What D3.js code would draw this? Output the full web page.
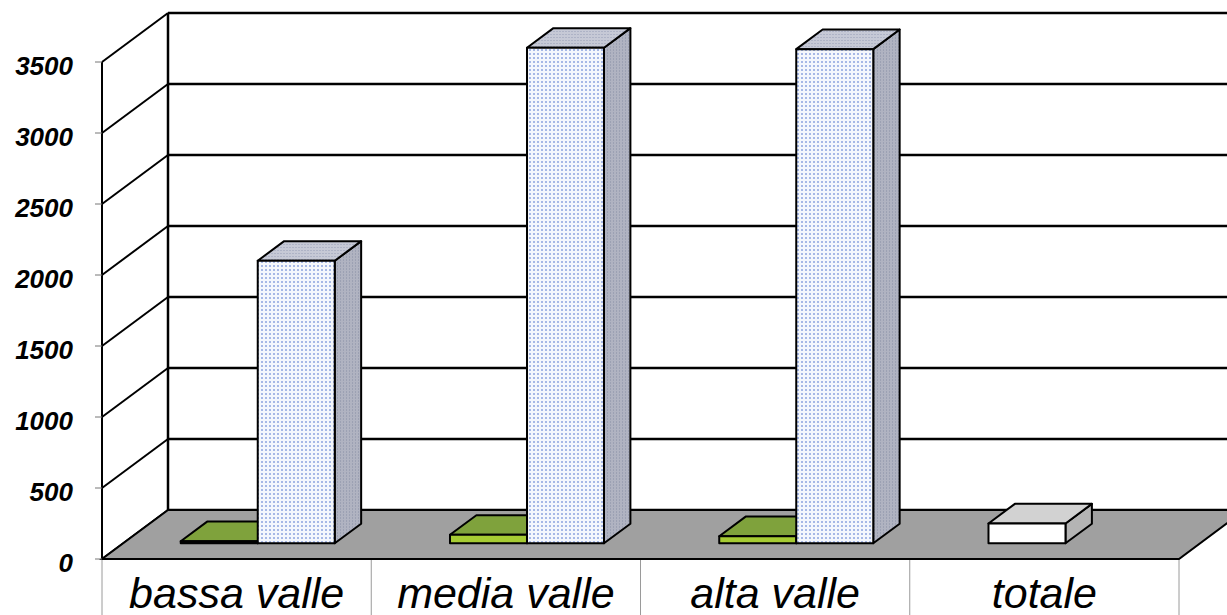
<!DOCTYPE html>
<html>
<head>
<meta charset="utf-8">
<script src="https://cdn.jsdelivr.net/npm/d3@7/dist/d3.min.js"></script>
<style>
  html, body { margin: 0; padding: 0; background: #fff; }
  svg { display: block; }
</style>
</head>
<body>
<script>
// Categories and series values
const categories = ["bassa valle", "media valle", "alta valle", "totale"];
const seriesGreen = [15, 60, 50, null];
const seriesBlue = [1990, 3490, 3480, null];
const seriesTotale = [null, null, null, 140];
const yTicks = [0, 500, 1000, 1500, 2000, 2500, 3000, 3500];

const W = 1227, H = 615;
const svg = d3.select("body").append("svg").attr("width", W).attr("height", H);

// front plane scales
const x = d3.scaleBand().domain(categories).range([102, 1179]);
const y = d3.scaleLinear().domain([0, 3500]).range([559, 62]);

// 3D depth offset of the whole floor
const DX = 66, DY = -49;
const depthFront = 0.32, depthSize = 0.4;
const barW = x.bandwidth() * 0.286;
const clusterOff = (x.bandwidth() - 2 * barW) / 2;

// patterns
const defs = svg.append("defs");
function dotPattern(id, bg, dot, w, h, dw, dh) {
  const p = defs.append("pattern").attr("id", id).attr("patternUnits", "userSpaceOnUse")
    .attr("width", w).attr("height", h);
  p.append("rect").attr("width", w).attr("height", h).attr("fill", bg);
  p.append("rect").attr("x", 1).attr("y", 1).attr("width", dw).attr("height", dh).attr("fill", dot);
}
dotPattern("blueFront", "#f4f7fd", "#a6b8e6", 4, 4, 2, 2);
dotPattern("blueTop", "#c6c9d6", "#aeb3c6", 3, 3, 2, 1);
dotPattern("blueSide", "#b0b3c1", "#9ca1b3", 3, 3, 1, 2);

const gStroke = "#000";

// back wall gridlines
const grid = svg.append("g");
grid.selectAll("line.back").data(yTicks).join("line")
  .attr("x1", x.range()[0] + DX).attr("x2", x.range()[1] + DX)
  .attr("y1", d => y(d) + DY).attr("y2", d => y(d) + DY)
  .attr("stroke", gStroke).attr("stroke-width", 2.5);
// left wall diagonals
grid.selectAll("line.side").data(yTicks).join("line")
  .attr("x1", x.range()[0]).attr("x2", x.range()[0] + DX)
  .attr("y1", d => y(d)).attr("y2", d => y(d) + DY)
  .attr("stroke", gStroke).attr("stroke-width", 2);
// back wall vertical edge
grid.append("line")
  .attr("x1", x.range()[0] + DX).attr("x2", x.range()[0] + DX)
  .attr("y1", y(3500) + DY).attr("y2", y(0) + DY)
  .attr("stroke", gStroke).attr("stroke-width", 2.5);
// front value axis
grid.append("line")
  .attr("x1", x.range()[0]).attr("x2", x.range()[0])
  .attr("y1", y(3500)).attr("y2", y(0))
  .attr("stroke", gStroke).attr("stroke-width", 2);

// floor
const x0 = x.range()[0], x1 = x.range()[1];
svg.append("path")
  .attr("d", `M${x0},${y(0)}L${x1},${y(0)}L${x1 + DX},${y(0) + DY}L${x0 + DX},${y(0) + DY}Z`)
  .attr("fill", "#a0a0a0").attr("stroke", "#000").attr("stroke-width", 2);

// value axis ticks and labels
const axisG = svg.append("g");
axisG.selectAll("line").data(yTicks).join("line")
  .attr("x1", x0 - 7).attr("x2", x0).attr("y1", d => y(d)).attr("y2", d => y(d))
  .attr("stroke", "#777").attr("stroke-width", 1);
axisG.selectAll("text").data(yTicks).join("text")
  .attr("x", 73).attr("y", d => y(d) + 12.5)
  .attr("text-anchor", "end")
  .attr("font-family", "'Liberation Sans', Arial, sans-serif")
  .attr("font-size", 26).attr("font-weight", "bold").attr("font-style", "italic")
  .attr("fill", "#000")
  .text(d => d);

// category separators below the floor
svg.append("g").selectAll("line").data(d3.range(categories.length + 1)).join("line")
  .attr("x1", i => x0 + i * x.step()).attr("x2", i => x0 + i * x.step())
  .attr("y1", y(0) + 1).attr("y2", H)
  .attr("stroke", "#9a9a9a").attr("stroke-width", 1);

// category labels
svg.append("g").selectAll("text").data(categories).join("text")
  .attr("x", d => x(d) + x.bandwidth() / 2).attr("y", 608)
  .attr("text-anchor", "middle")
  .attr("font-family", "'Liberation Sans', Arial, sans-serif")
  .attr("font-size", 43).attr("font-style", "italic").attr("fill", "#000")
  .text(d => d);

// 3D bars
const bars = [];
categories.forEach((c, i) => {
  if (seriesGreen[i] != null) bars.push({ c, slot: 0, v: seriesGreen[i], front: "#a6cc33", top: "#7fa23c", side: "#6c8a30" });
  if (seriesTotale[i] != null) bars.push({ c, slot: 0, v: seriesTotale[i], front: "#ffffff", top: "#d2d2d2", side: "#b4b4b4" });
  if (seriesBlue[i] != null) bars.push({ c, slot: 1, v: seriesBlue[i], front: "url(#blueFront)", top: "url(#blueTop)", side: "url(#blueSide)" });
});

const barG = svg.append("g");
bars.forEach(b => {
  const fx = x(b.c) + clusterOff + b.slot * barW + DX * depthFront;
  const fyBase = y(0) + DY * depthFront;
  const fyTop = fyBase - (y(0) - y(b.v));
  const ddx = DX * depthSize, ddy = DY * depthSize;
  const g = barG.append("g").attr("stroke", "#000").attr("stroke-width", 2).attr("stroke-linejoin", "round");
  // side face
  g.append("path")
    .attr("d", `M${fx + barW},${fyBase}L${fx + barW + ddx},${fyBase + ddy}L${fx + barW + ddx},${fyTop + ddy}L${fx + barW},${fyTop}Z`)
    .attr("fill", b.side);
  // top face
  g.append("path")
    .attr("d", `M${fx},${fyTop}L${fx + barW},${fyTop}L${fx + barW + ddx},${fyTop + ddy}L${fx + ddx},${fyTop + ddy}Z`)
    .attr("fill", b.top);
  // front face
  g.append("rect")
    .attr("x", fx).attr("y", fyTop).attr("width", barW).attr("height", fyBase - fyTop)
    .attr("fill", b.front);
});
</script>
</body>
</html>
